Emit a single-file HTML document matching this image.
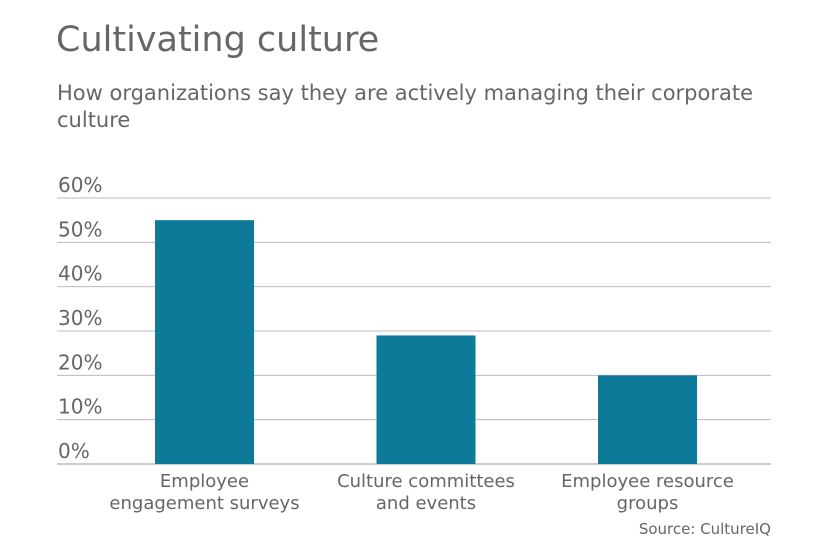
<!DOCTYPE html>
<html><head><meta charset="utf-8"><style>
body{margin:0;background:#fff;width:840px;height:547px;overflow:hidden;font-family:"DejaVu Sans","Liberation Sans",sans-serif;color:#666}
#title{position:absolute;left:56px;top:20px;font-size:35px;margin:0;font-weight:normal;color:#666}
#sub{position:absolute;left:57px;top:80px;font-size:21px;line-height:27px;color:#666;width:700px}
svg{position:absolute;left:0;top:0}
</style></head><body>
<h1 id="title">Cultivating culture</h1>
<div id="sub">How organizations say they are actively managing their corporate culture</div>
<svg width="840" height="547"></svg>
<script>
const categories=[["Employee","engagement surveys"],["Culture committees","and events"],["Employee resource","groups"]];
const values=[55,29,20];
const ticks=[0,10,20,30,40,50,60];
const tickLabels=["0%","10%","20%","30%","40%","50%","60%"];
const svg=document.querySelector('svg');const NS='http://www.w3.org/2000/svg';
const x0=57,x1=771,y0=464,y60=198;
const y=v=>y0-(v/60)*(y0-y60);
const bandW=(x1-x0)/3;
const xc=i=>155+49.5+i*221.5;
function mk(t,a){const e=document.createElementNS(NS,t);for(const k in a)e.setAttribute(k,a[k]);svg.appendChild(e);return e;}
ticks.forEach((t,i)=>{
 const l=mk('line',{x1:x0,x2:x1,y1:y(t),y2:y(t),stroke:t===0?'#999':'#bbb','stroke-width':1});
 
 
 const tx=mk('text',{x:58,y:y(t)-6,'font-size':20,fill:'#666'});
 tx.textContent=tickLabels[i];
 
 
});
values.forEach((v,i)=>{
 const r=mk('rect',{x:xc(i)-49.5,y:y(v),width:99,height:y0-y(v),fill:'#0e7a99'});
 
 
 categories[i].forEach((s,j)=>{
  const t=mk('text',{x:xc(i),y:487+j*22,'font-size':18,fill:'#666','text-anchor':'middle'});
  t.textContent=s;
  
  
 });
});
const s=mk('text',{x:771,y:534,'font-size':15,fill:'#666','text-anchor':'end'});
s.textContent='Source: CultureIQ';


</script>
</body></html>
